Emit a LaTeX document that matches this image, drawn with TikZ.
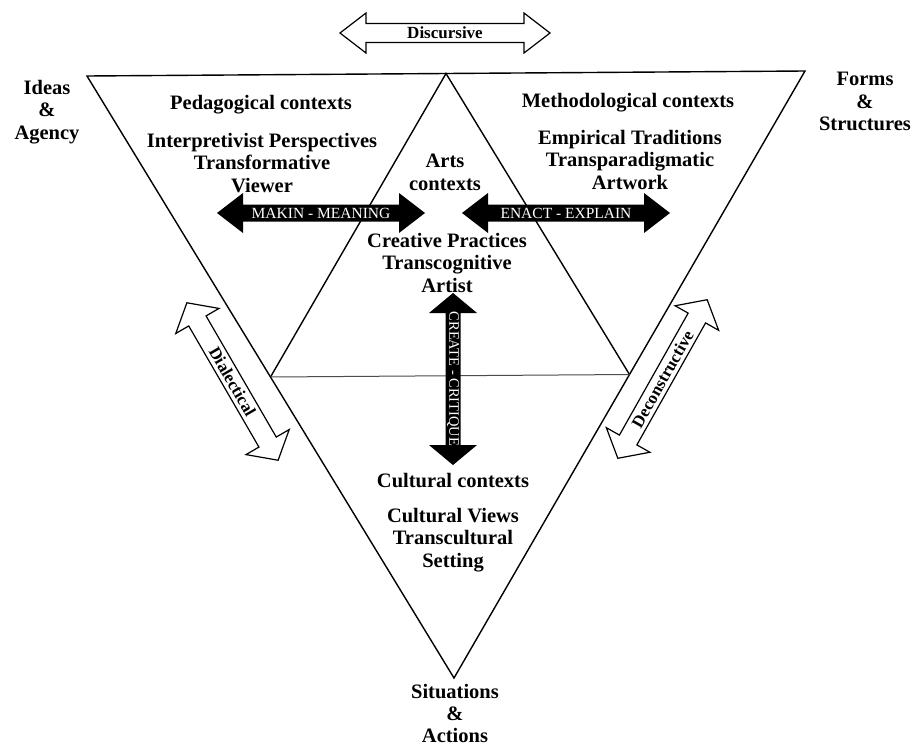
\documentclass[tikz,border=0pt]{standalone}
\usepackage{fontspec}
\setmainfont{Liberation Serif}
\usetikzlibrary{calc}

\tikzset{
  every node/.style={inner sep=0pt},
  frame/.style={line width=1.4pt, line join=miter},
  midline/.style={line width=1pt, draw=black!70},
  block/.style={font=\fontsize{20.5}{22.5}\selectfont\bfseries, align=center, anchor=north},
  openarrow/.style={draw=black, fill=white, line width=1.2pt, line join=miter},
  openarrow text/.style={font=\fontsize{17}{17}\selectfont\bfseries, text=black},
  blackarrow/.style={fill=black},
  blackarrow text/.style={font=\fontsize{15.5}{15.5}\selectfont, text=white},
}

% two-headed block arrow: name, centre, angle, half length,
% shaft half width, head half width, head length, style, label
\newcommand{\twowayarrow}[9]{%
  \begin{scope}[shift={(#2)}, rotate=#3]
    \path[#8] (-#4,0) -- ({-#4+#7},#6) -- ({-#4+#7},#5) -- ({#4-#7},#5)
      -- ({#4-#7},#6) -- (#4,0) -- ({#4-#7},-#6) -- ({#4-#7},-#5)
      -- ({-#4+#7},-#5) -- ({-#4+#7},-#6) -- cycle;
  \end{scope}
  \node[#8 text, rotate=#3] (#1) at (#2) {#9};
}

\begin{document}
\begin{tikzpicture}[x=1pt, y=-1pt]
\useasboundingbox[fill=white] (0,0) rectangle (912,747);

% outer (inverted) triangle and the inner one joining its side midpoints
\coordinate (TL) at (87,76);
\coordinate (TR) at (805,71);
\coordinate (B)  at (454,678);
\coordinate (MT) at ($(TL)!0.5!(TR)$);
\coordinate (ML) at ($(TL)!0.5!(B)$);
\coordinate (MR) at ($(TR)!0.5!(B)$);

\draw[frame] (TL) -- (TR) -- (B) -- cycle;
\draw[frame] (ML) -- (MT) -- (MR);
\draw[midline] (ML) -- (MR);

% corner labels
\node[block] (ideas) at (47,80) {Ideas\\\&\\Agency};
\node[block] (forms) at (865,72) {Forms\\\&\\Structures};
\node[block, font=\fontsize{20.5}{22}\selectfont\bfseries] (situ) at (455,684) {Situations\\\&\\Actions};

% context blocks
\node[block] (pedctx)   at (261,95)  {Pedagogical contexts};
\node[block] (pedbody)  at (262,133) {Interpretivist Perspectives\\Transformative\\Viewer};
\node[block] (methctx)  at (628,93)  {Methodological contexts};
\node[block] (methbody) at (630,130) {Empirical Traditions\\Transparadigmatic\\Artwork};
\node[block] (artsctx)  at (445,154) {Arts\\contexts};
\node[block] (artsbody) at (447,233) {Creative Practices\\Transcognitive\\Artist};
\node[block] (cultctx)  at (453,473) {Cultural contexts};
\node[block] (cultbody) at (453,508) {Cultural Views\\Transcultural\\Setting};

% block arrows
\twowayarrow{discursive}{445,33}{0}{105}{9.5}{20}{26}{openarrow}{Discursive}
\twowayarrow{meaning}{321,213}{0}{104}{8.5}{20}{26}{blackarrow}{MAKIN - MEANING}
\twowayarrow{explain}{566,213}{0}{104}{8.5}{20}{26}{blackarrow}{ENACT - EXPLAIN}
\twowayarrow{critique}{453,379}{-90}{86}{7.5}{24}{20}{blackarrow}{\fontsize{14.5}{14.5}\selectfont CREATE - CRITIQUE}
\twowayarrow{dialectical}{232.5,381.5}{-59.9}{91}{10}{25}{21}{openarrow}{Dialectical}
\twowayarrow{deconstructive}{662.5,379}{60.6}{91}{10}{25}{21}{openarrow}{Deconstructive}
\end{tikzpicture}
\end{document}
